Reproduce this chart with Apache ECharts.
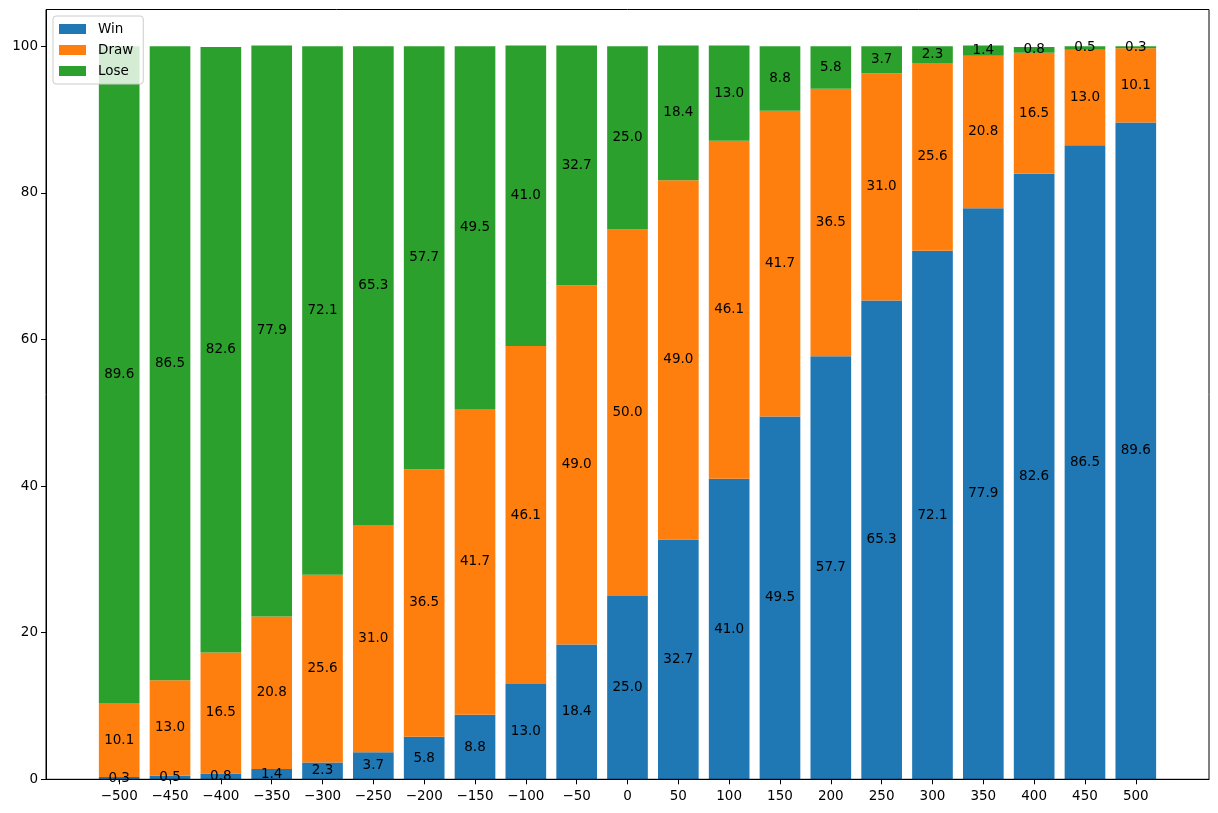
<!DOCTYPE html>
<html>
<head>
<meta charset="utf-8">
<script src="https://cdn.jsdelivr.net/npm/echarts@6/dist/echarts.min.js"></script>
<style>html,body{margin:0;padding:0;background:#fff}#c{width:1218px;height:813px}</style>
</head>
<body>
<div id="c"></div>
<script>
const categories = [-500,-450,-400,-350,-300,-250,-200,-150,-100,-50,0,50,100,150,200,250,300,350,400,450,500];
const winValues  = [0.3,0.5,0.8,1.4,2.3,3.7,5.8,8.8,13.0,18.4,25.0,32.7,41.0,49.5,57.7,65.3,72.1,77.9,82.6,86.5,89.6];
const drawValues = [10.1,13.0,16.5,20.8,25.6,31.0,36.5,41.7,46.1,49.0,50.0,49.0,46.1,41.7,36.5,31.0,25.6,20.8,16.5,13.0,10.1];
const loseValues = [89.6,86.5,82.6,77.9,72.1,65.3,57.7,49.5,41.0,32.7,25.0,18.4,13.0,8.8,5.8,3.7,2.3,1.4,0.8,0.5,0.3];
const yTicks = [0,20,40,60,80,100];

const chart = echarts.init(document.getElementById('c'), null, {renderer:'canvas'});
const font = 'DejaVu Sans';
const fs = 13.5;
// frame geometry (px)
const L = 46, R = 9, T = 9.5, B = 33.7;
const W = 1218 - L - R;
const xMin = -572, xMax = 572;
const pxPerUnit = W / (xMax - xMin);
const step = 50;
const barGridLeft = L + (categories[0] - step/2 - xMin) * pxPerUnit;
const barGridRight = R + (xMax - (categories[categories.length-1] + step/2)) * pxPerUnit;

function mk(name, vals, color){
  return {
    name, type:'bar', stack:'total', barWidth:'80%', xAxisIndex:1, yAxisIndex:1,
    data: vals,
    itemStyle:{color},
    label:{show:true, position:'inside', color:'#000', fontFamily:font, fontSize:fs,
      formatter:p=>Number(p.value).toFixed(1)},
    emphasis:{disabled:true}
  };
}
chart.setOption({
  animation:false,
  grid:[
    {left:L, right:R, top:T, bottom:B, show:true, borderColor:'#000', borderWidth:1, backgroundColor:'transparent', z:3},
    {left:barGridLeft, right:barGridRight, top:T, bottom:B, show:false}
  ],
  legend:{
    left:53, top:16, orient:'vertical', itemWidth:27, itemHeight:10, itemGap:7,
    backgroundColor:'rgba(255,255,255,0.8)', borderColor:'#ccc', borderWidth:1, borderRadius:3,
    padding:[6,10,6,6],
    textStyle:{fontFamily:font, fontSize:fs, color:'#000', padding:[0,0,0,7]},
    icon:'rect',
    data:['Win','Draw','Lose']
  },
  xAxis:[{
    gridIndex:0, type:'value', min:xMin, max:xMax,
    splitLine:{show:false},
    axisLine:{show:true, onZero:false, lineStyle:{color:'#000'}},
    axisTick:{show:true, length:5, customValues:categories, lineStyle:{color:'#000'}},
    axisLabel:{customValues:categories, color:'#000', fontFamily:font, fontSize:fs, margin:10,
      formatter:v=>String(v).replace('-','\u2212')}
  },{
    gridIndex:1, type:'category', data:categories, show:false
  }],
  yAxis:[{
    gridIndex:0, type:'value', min:0, max:105,
    splitLine:{show:false},
    axisLine:{show:true, onZero:false, lineStyle:{color:'#000'}},
    axisTick:{show:true, length:5, customValues:yTicks, lineStyle:{color:'#000'}},
    axisLabel:{customValues:yTicks, color:'#000', fontFamily:font, fontSize:fs, margin:8}
  },{
    gridIndex:1, type:'value', min:0, max:105, show:false, splitLine:{show:false}
  }],
  series:[
    mk('Win', winValues, '#1f77b4'),
    mk('Draw', drawValues, '#ff7f0e'),
    mk('Lose', loseValues, '#2ca02c')
  ]
});
</script>
</body>
</html>
